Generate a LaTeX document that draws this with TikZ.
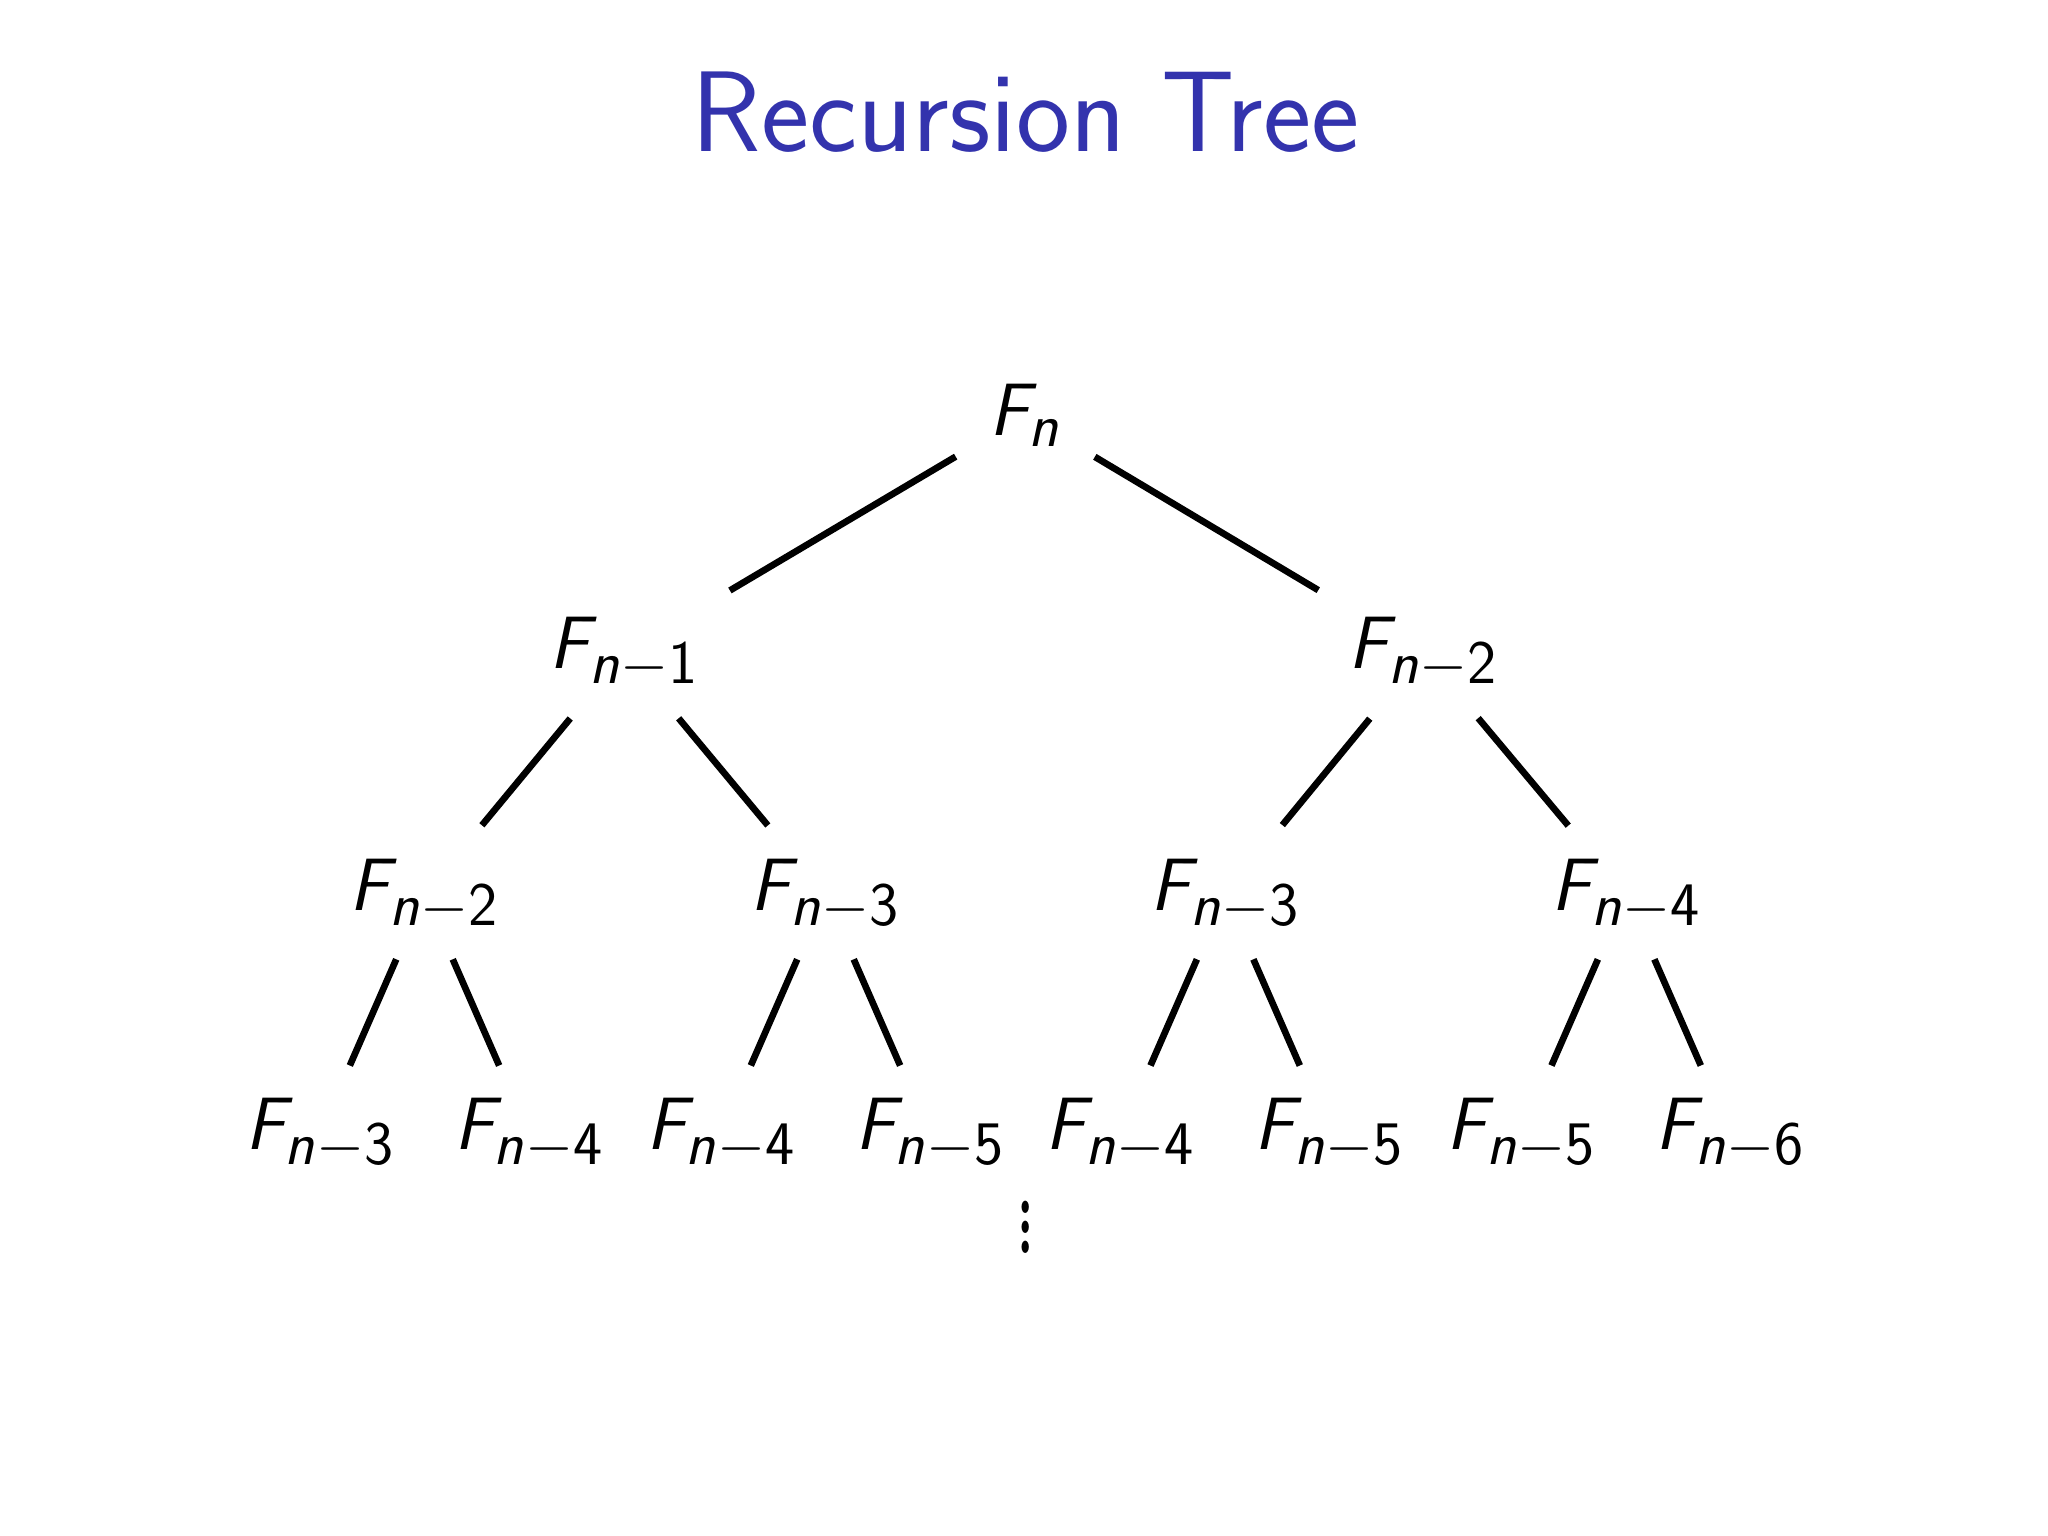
\documentclass[tikz,border=0pt]{standalone}
\DeclareMathAlphabet{\mathsfit}{OT1}{cmss}{m}{sl}
\DeclareMathAlphabet{\mathsfup}{OT1}{cmss}{m}{n}
\newcommand{\Fsub}[1]{$\mathsfit{F}_{\mathsfit{n}-\mathsfup{#1}}$}
\begin{document}
\begin{tikzpicture}[x=0.02cm,y=-0.02cm,
  lbl/.style={inner sep=0pt,scale=1.3,font=\fontsize{24.88}{28}\selectfont},
  edge/.style={line width=2.9pt}]
\useasboundingbox (0,0) rectangle (1568,1176);
\node[text=blue!60!black!80, font=\sffamily\fontsize{50}{56}\selectfont] (title) at (785,86) {Recursion Tree};
\node[lbl] (r) at (785,318) {$\mathsfit{F}_{\mathsfit{n}}$};
\node[lbl] (a) at (478,500) {\Fsub{1}};
\node[lbl] (b) at (1090,500) {\Fsub{2}};
\node[lbl] (aa) at (325,685) {\Fsub{2}};
\node[lbl] (ab) at (632,685) {\Fsub{3}};
\node[lbl] (ba) at (938,685) {\Fsub{3}};
\node[lbl] (bb) at (1245,685) {\Fsub{4}};
\node[lbl] (aaa) at (245,868) {\Fsub{3}};
\node[lbl] (aab) at (405,868) {\Fsub{4}};
\node[lbl] (aba) at (552,868) {\Fsub{4}};
\node[lbl] (abb) at (712,868) {\Fsub{5}};
\node[lbl] (baa) at (858,868) {\Fsub{4}};
\node[lbl] (bab) at (1018,868) {\Fsub{5}};
\node[lbl] (bba) at (1165,868) {\Fsub{5}};
\node[lbl] (bbb) at (1325,868) {\Fsub{6}};
\node[inner sep=0pt,yscale=2.2,xscale=1.3,font=\fontsize{30}{34}\selectfont] (dots) at (785,928) {$\vdots$};
\draw[edge,shorten <=1.24cm,shorten >=1.88cm] (r.center) -- (a.center);
\draw[edge,shorten <=1.24cm,shorten >=1.88cm] (r.center) -- (b.center);
\foreach \p/\c in {a/aa,a/ab,b/ba,b/bb}
  \draw[edge,shorten <=1.3cm,shorten >=1.38cm] (\p.center) -- (\c.center);
\foreach \p/\c in {aa/aaa,aa/aab,ab/aba,ab/abb,ba/baa,ba/bab,bb/bba,bb/bbb}
  \draw[edge,shorten <=1.08cm,shorten >=1.14cm] (\p.center) -- (\c.center);
\end{tikzpicture}
\end{document}
